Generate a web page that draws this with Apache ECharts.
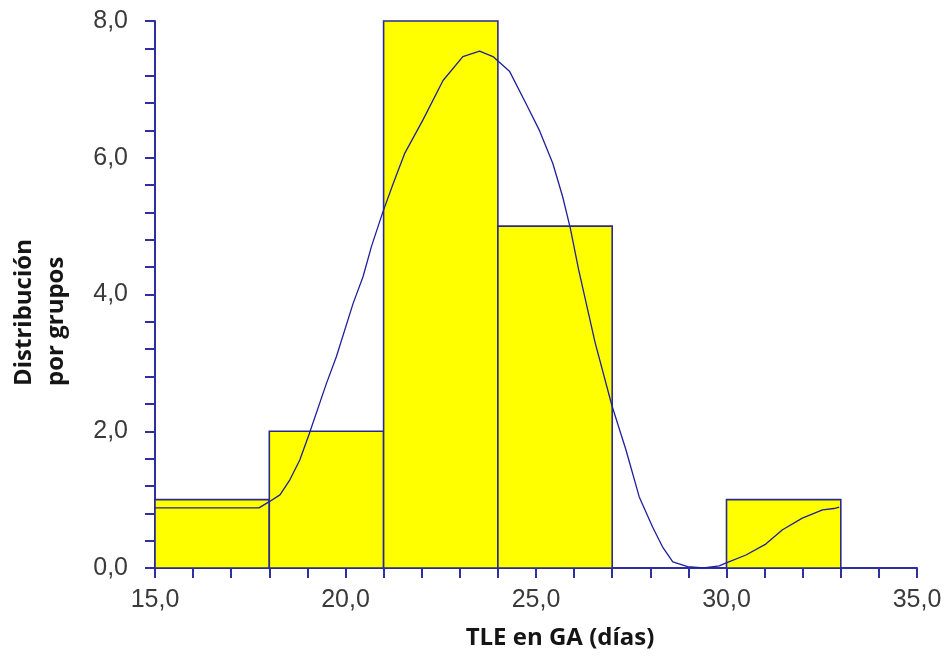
<!DOCTYPE html>
<html>
<head>
<meta charset="utf-8">
<script src="https://cdn.jsdelivr.net/npm/echarts@6/dist/echarts.min.js"></script>
<style>
  html, body { margin: 0; padding: 0; background: #ffffff; }
  #chart { width: 947px; height: 657px; }
</style>
</head>
<body>
<div id="chart"></div>
<script>
// Histogram bins (días) and group counts
var binStart = [15, 18, 21, 24, 27, 30];
var binEnd   = [18, 21, 24, 27, 30, 33];
var counts   = [1, 2, 8, 5, 0, 1];

// Fitted distribution curve
var curveX = [15, 16, 17, 17.73, 18.0, 18.28, 18.54, 18.8, 19.04, 19.5, 19.76, 20.2, 20.46, 20.68, 20.97,
              21.25, 21.55, 22.03, 22.56, 23.08, 23.52, 23.87, 24.31, 24.74, 25.09, 25.44, 25.7, 25.9, 26.12,
              26.55, 26.99, 27.36, 27.71, 28.06, 28.32, 28.59, 28.98, 29.4, 29.81, 29.98, 30.51, 31.03, 31.47,
              31.99, 32.52, 32.82, 32.96];
var curveY = [0.88, 0.88, 0.88, 0.88, 0.97, 1.07, 1.29, 1.58, 1.95, 2.70, 3.09, 3.87, 4.26, 4.70, 5.19,
              5.62, 6.06, 6.55, 7.13, 7.48, 7.56, 7.48, 7.26, 6.79, 6.40, 5.92, 5.43, 4.97, 4.36,
              3.30, 2.38, 1.73, 1.04, 0.60, 0.31, 0.09, 0.02, 0, 0.03, 0.07, 0.19, 0.35, 0.56,
              0.73, 0.85, 0.87, 0.89];

var xTitle = 'TLE en GA (días)';
var yTitle = 'Distribución\npor grupos';

var axisColor = '#2f2fa3';
var labelStyle = { color: '#3a3a3a', fontFamily: 'Liberation Sans', fontSize: 25 };
function commaFmt(v) { return v.toFixed(1).replace('.', ','); }

var barData = binStart.map(function (s, i) { return [s, binEnd[i], counts[i]]; });
var curveData = curveX.map(function (x, i) { return [x, curveY[i]]; });

var chart = echarts.init(document.getElementById('chart'));
chart.setOption({
  animation: false,
  backgroundColor: '#ffffff',
  grid: { left: 155, right: 30, top: 21, bottom: 89 },
  xAxis: {
    type: 'value', min: 15, max: 35, interval: 5,
    axisLine: { show: true, lineStyle: { color: axisColor, width: 2 } },
    axisTick: { show: true, length: 10, lineStyle: { color: axisColor, width: 2 } },
    minorTick: { show: true, splitNumber: 5, length: 10, lineStyle: { color: axisColor, width: 2 } },
    splitLine: { show: false },
    axisLabel: Object.assign({ margin: 20, formatter: commaFmt }, labelStyle)
  },
  yAxis: {
    type: 'value', min: 0, max: 8, interval: 2,
    axisLine: { show: true, lineStyle: { color: axisColor, width: 2 } },
    axisTick: { show: true, length: 10, lineStyle: { color: axisColor, width: 2 } },
    minorTick: { show: true, splitNumber: 5, length: 10, lineStyle: { color: axisColor, width: 2 } },
    splitLine: { show: false },
    axisLabel: Object.assign({ margin: 27, formatter: commaFmt }, labelStyle)
  },
  graphic: [
    {
      type: 'text', x: 560, y: 638,
      style: { text: xTitle, font: 'bold 24px "Open Sans"', fill: '#151515', align: 'center', verticalAlign: 'middle' }
    },
    {
      type: 'text', x: 8, y: 386, rotation: Math.PI / 2,
      style: { text: yTitle, font: 'bold 24px "Open Sans"', fill: '#151515', align: 'left', verticalAlign: 'top', lineHeight: 32 }
    }
  ],
  series: [
    {
      type: 'custom',
      data: barData,
      encode: { x: [0, 1], y: 2 },
      z: 2,
      renderItem: function (params, api) {
        var h = api.value(2);
        if (!h) return null;
        var p0 = api.coord([api.value(0), h]);
        var p1 = api.coord([api.value(1), 0]);
        return {
          type: 'rect',
          shape: { x: p0[0], y: p0[1], width: p1[0] - p0[0], height: p1[1] - p0[1] },
          style: { fill: '#ffff00', stroke: '#2a2a8c', lineWidth: 1.6 }
        };
      }
    },
    {
      type: 'line',
      data: curveData,
      z: 3,
      showSymbol: false,
      smooth: false,
      lineStyle: { color: '#1f1f9a', width: 1.3 }
    }
  ]
});
</script>
</body>
</html>
